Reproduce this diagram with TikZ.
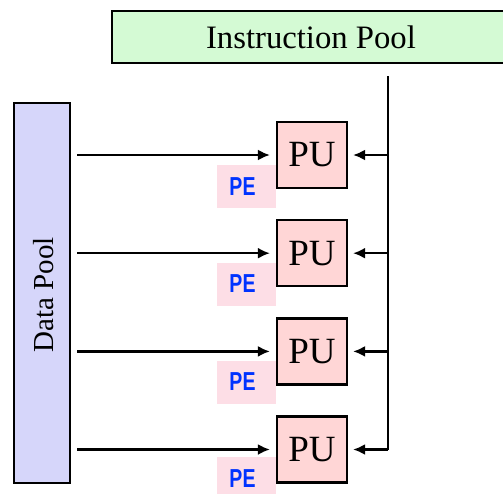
\documentclass[tikz,border=0pt]{standalone}
\usepackage{fontspec}
\setmainfont{Liberation Serif}
\newfontfamily\pefont{Liberation Sans}
\usetikzlibrary{arrows.meta}
\definecolor{instrfill}{RGB}{212,250,212}
\definecolor{datafill}{RGB}{214,214,250}
\definecolor{pufill}{RGB}{255,214,214}
\definecolor{pefill}{RGB}{253,222,230}
\definecolor{peblue}{RGB}{0,51,255}
\tikzset{
  poolbox/.style={draw=black, line width=2.2pt, inner sep=0pt},
  pubox/.style={draw=black, line width=2.2pt, fill=pufill, minimum width=70pt, minimum height=66pt, inner sep=0pt, font=\fontsize{37}{40}\selectfont},
  pelabel/.style={fill=pefill, minimum width=59pt, minimum height=43pt, inner sep=0pt, text=peblue, font=\pefont\bfseries\fontsize{26}{28}\selectfont},
  conn/.style={line width=2.2pt, -{Latex[length=12pt,width=11pt]}},
  wire/.style={line width=2.2pt}
}
\begin{document}
\begin{tikzpicture}[x=1pt,y=-1pt]
\useasboundingbox (0,0) rectangle (503,493);
\clip (0,0) rectangle (503,493);
\node[poolbox, fill=instrfill, minimum width=398pt, minimum height=52pt, font=\fontsize{32.7}{36}\selectfont] (instr) at (311,37) {Instruction Pool};
\node[poolbox, fill=datafill, minimum width=56pt, minimum height=380pt] (data) at (42,293) {};
\node[rotate=90, font=\fontsize{29}{32}\selectfont] (datalbl) at (44,295) {Data Pool};
\coordinate (itop) at (388,76);
\coordinate (ibot) at (388,450);
\draw[wire] (itop) -- (ibot);
\foreach \i/\y/\py in {1/155/186.5, 2/253.2/284, 3/351.4/382, 4/449.5/478.5} {
  \node[pubox] (pu\i) at (312,\y) {PU};
  \node[pelabel] (pe\i) at (246.5,\py) {\hspace*{-8pt}\scalebox{0.75}[1]{PE}};
  \coordinate (d\i) at (77,\y);
  \coordinate (r\i) at (388,\y);
  \draw[conn, shorten >=6pt] (d\i) -- (pu\i.west);
  \draw[conn, shorten >=5pt] (r\i) -- (pu\i.east);
}
\end{tikzpicture}
\end{document}
